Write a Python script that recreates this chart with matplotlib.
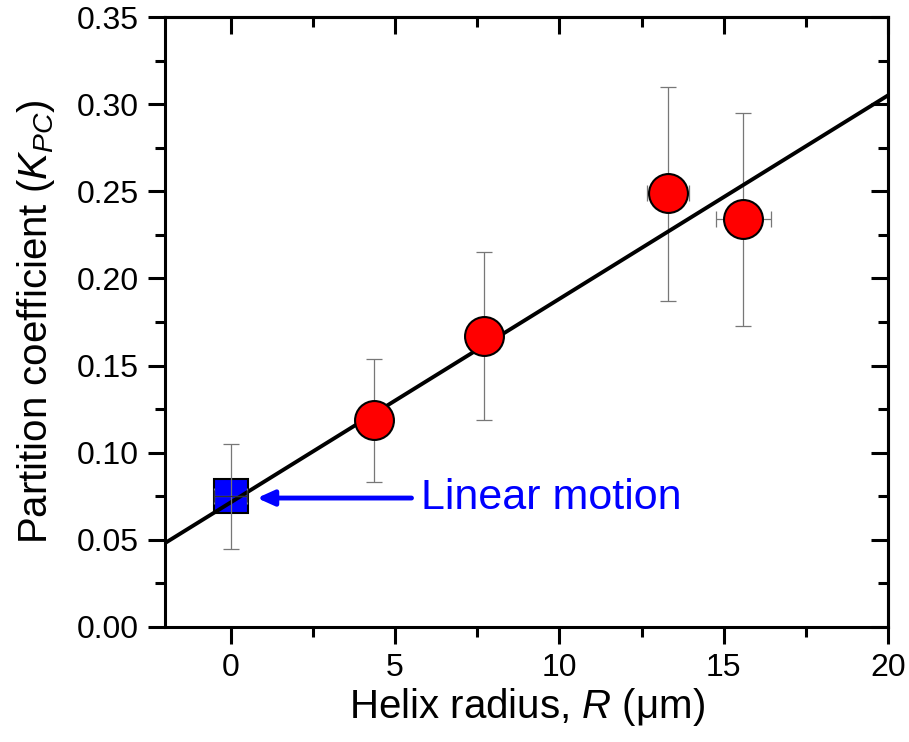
import matplotlib
matplotlib.use("Agg")
import matplotlib.pyplot as plt
import numpy as np

plt.rcParams['font.family'] = ['Liberation Sans', 'DejaVu Sans']
plt.rcParams['mathtext.fontset'] = 'custom'
plt.rcParams['mathtext.rm'] = 'Liberation Sans'
plt.rcParams['mathtext.it'] = 'Liberation Sans:italic'

# Data
helix_R = [4.35, 7.7, 13.3, 15.6]
helix_K = [0.119, 0.167, 0.249, 0.234]
helix_Kerr_up = [0.035, 0.048, 0.061, 0.061]
helix_Kerr_dn = [0.036, 0.048, 0.062, 0.061]
helix_Rerr = [0.2, 0.45, 0.65, 0.85]

linear_R = [0.0]
linear_K = [0.075]
linear_Kerr = [0.030]
linear_Rerr = [0.5]

fit_intercept = 0.0715
fit_slope = 0.01168

fig = plt.figure(figsize=(9.09, 7.42), dpi=100)
ax = fig.add_axes([0.1815, 0.155, 0.7955, 0.822])

xfit = np.array([-2, 20])
ax.plot(xfit, fit_intercept + fit_slope * xfit, color='black', lw=2.8, zorder=2)

ax.errorbar(linear_R, linear_K, yerr=linear_Kerr, xerr=linear_Rerr, fmt='none',
            ecolor='#777777', elinewidth=0.9, capsize=5.5, capthick=0.9, zorder=3)
ax.plot(linear_R, linear_K, 's', color='#0000ff', markersize=25,
        markeredgecolor='black', markeredgewidth=1.5, zorder=1)
ax.errorbar(linear_R, linear_K, xerr=linear_Rerr, fmt='none',
            ecolor='#333333', elinewidth=0.8, capsize=4, capthick=0.8, zorder=4)

ax.errorbar(helix_R, helix_K, yerr=[helix_Kerr_dn, helix_Kerr_up], xerr=helix_Rerr,
            fmt='none', ecolor='#777777', elinewidth=0.9, capsize=5.5, capthick=0.9, zorder=1)
ax.plot(helix_R, helix_K, 'o', color='#ff0000', markersize=28,
        markeredgecolor='black', markeredgewidth=1.5, zorder=5)

ax.annotate('', xy=(0.8, 0.074), xytext=(5.5, 0.074),
            arrowprops=dict(arrowstyle='-|>,head_length=1.0,head_width=0.45',
                            color='#0000ff', lw=3.5, shrinkA=0, shrinkB=0))
ax.text(5.8, 0.074, 'Linear motion', color='#0000ff', fontsize=31,
        va='center', ha='left')

ax.set_xlim(-2, 20)
ax.set_ylim(0, 0.35)
ax.set_xticks([0, 5, 10, 15, 20])
ax.set_xticks([2.5, 7.5, 12.5, 17.5], minor=True)
ax.set_yticks(np.arange(0, 0.351, 0.05))
ax.set_yticks(np.arange(0.025, 0.35, 0.05), minor=True)
ax.yaxis.set_major_formatter(matplotlib.ticker.FormatStrFormatter('%.2f'))

for s in ax.spines.values():
    s.set_linewidth(2.2)

ax.tick_params(which='both', labelsize=23, width=2.2, pad=7)
ax.tick_params(which='major', length=12)
ax.tick_params(which='minor', length=7)
ax.tick_params(axis='x', which='both', direction='out')
ax.tick_params(axis='y', which='both', direction='out')
ax.tick_params(top=False, right=False, which='both')

# inward ticks on top and right
ax2 = ax.secondary_xaxis('top')
ax3 = ax.secondary_yaxis('right')
for a in (ax2, ax3):
    a.tick_params(which='both', direction='in', width=2.2, labelsize=0)
    a.tick_params(which='major', length=12)
    a.tick_params(which='minor', length=7)
ax2.set_xticks([0, 5, 10, 15, 20])
ax2.set_xticks([2.5, 7.5, 12.5, 17.5], minor=True)
ax2.set_xticklabels([])
ax3.set_yticks(np.arange(0, 0.351, 0.05))
ax3.set_yticks(np.arange(0.025, 0.35, 0.05), minor=True)
ax3.set_yticklabels([])
for a in (ax2, ax3):
    for s in a.spines.values():
        s.set_linewidth(2.2)

ax.set_xlabel(r'Helix radius, $\mathit{R}$ ($\mathrm{\mu}$m)', fontsize=29, labelpad=2)
ax.set_ylabel(r'Partition coefficient ($\mathit{K}_{\mathit{PC}}$)', fontsize=29, labelpad=14)

fig.savefig('out.png', dpi=100)
